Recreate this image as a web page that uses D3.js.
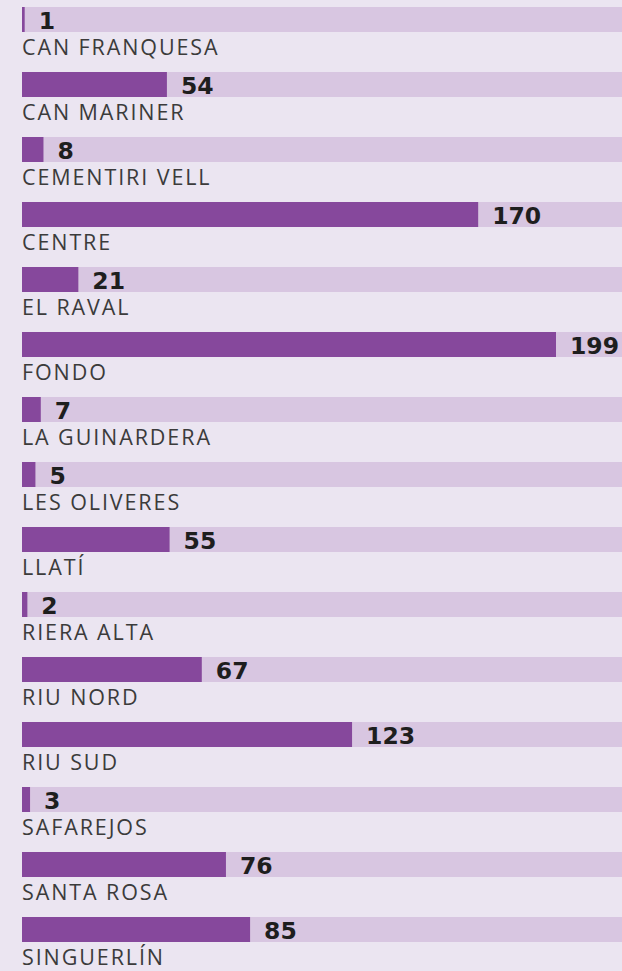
<!DOCTYPE html>
<html>
<head>
<meta charset="utf-8">
<script src="https://cdn.jsdelivr.net/npm/d3@7"></script>
<style>
    body { margin: 0; background: #ebe5f1; }
    .track { fill: #d8c6e1; }
    .bar { fill: #86489c; }
    .name { font-family: "Open Sans", sans-serif; font-size: 21.5px; letter-spacing: 1.9px; fill: #3b3b3b; }
    .value { font-family: "DejaVu Sans", sans-serif; font-weight: bold; font-size: 23.5px; fill: #1e1e1e; }
</style>
</head>
<body>
<div id="chart"></div>
<script>
// barrios y valores
var barrios = ["CAN FRANQUESA", "CAN MARINER", "CEMENTIRI VELL", "CENTRE", "EL RAVAL", "FONDO",
    "LA GUINARDERA", "LES OLIVERES", "LLATÍ", "RIERA ALTA", "RIU NORD", "RIU SUD",
    "SAFAREJOS", "SANTA ROSA", "SINGUERLÍN"];
var valores = [1, 54, 8, 170, 21, 199, 7, 5, 55, 2, 67, 123, 3, 76, 85];

var width = 622, height = 971;
var margin = { left: 22, top: 7 };
var rowH = 65, barH = 25;

var svg = d3.select("#chart")
    .append("svg")
    .attr("width", width)
    .attr("height", height);

var x = d3.scaleLinear()
    .domain([0, d3.max(valores)])
    .range([margin.left, 556]);

var y = d3.scaleBand()
    .domain(barrios)
    .range([margin.top, margin.top + rowH * barrios.length]);

var rows = svg.selectAll("g.row")
    .data(barrios)
    .enter()
    .append("g")
    .attr("class", "row")
    .attr("transform", function (d) { return "translate(0," + y(d) + ")"; });

rows.append("rect")
    .attr("class", "track")
    .attr("x", margin.left)
    .attr("width", width - margin.left)
    .attr("height", barH);

rows.append("rect")
    .attr("class", "bar")
    .attr("x", margin.left)
    .attr("width", function (d, i) { return Math.max(x(valores[i]) - margin.left, 2.5); })
    .attr("height", barH);

rows.append("text")
    .attr("class", "value")
    .attr("x", function (d, i) { return Math.max(x(valores[i]), margin.left + 2.5) + 14; })
    .attr("y", barH - 3)
    .text(function (d, i) { return valores[i]; });

rows.append("text")
    .attr("class", "name")
    .attr("x", margin.left)
    .attr("y", barH + 23)
    .text(function (d) { return d; });
</script>
</body>
</html>
